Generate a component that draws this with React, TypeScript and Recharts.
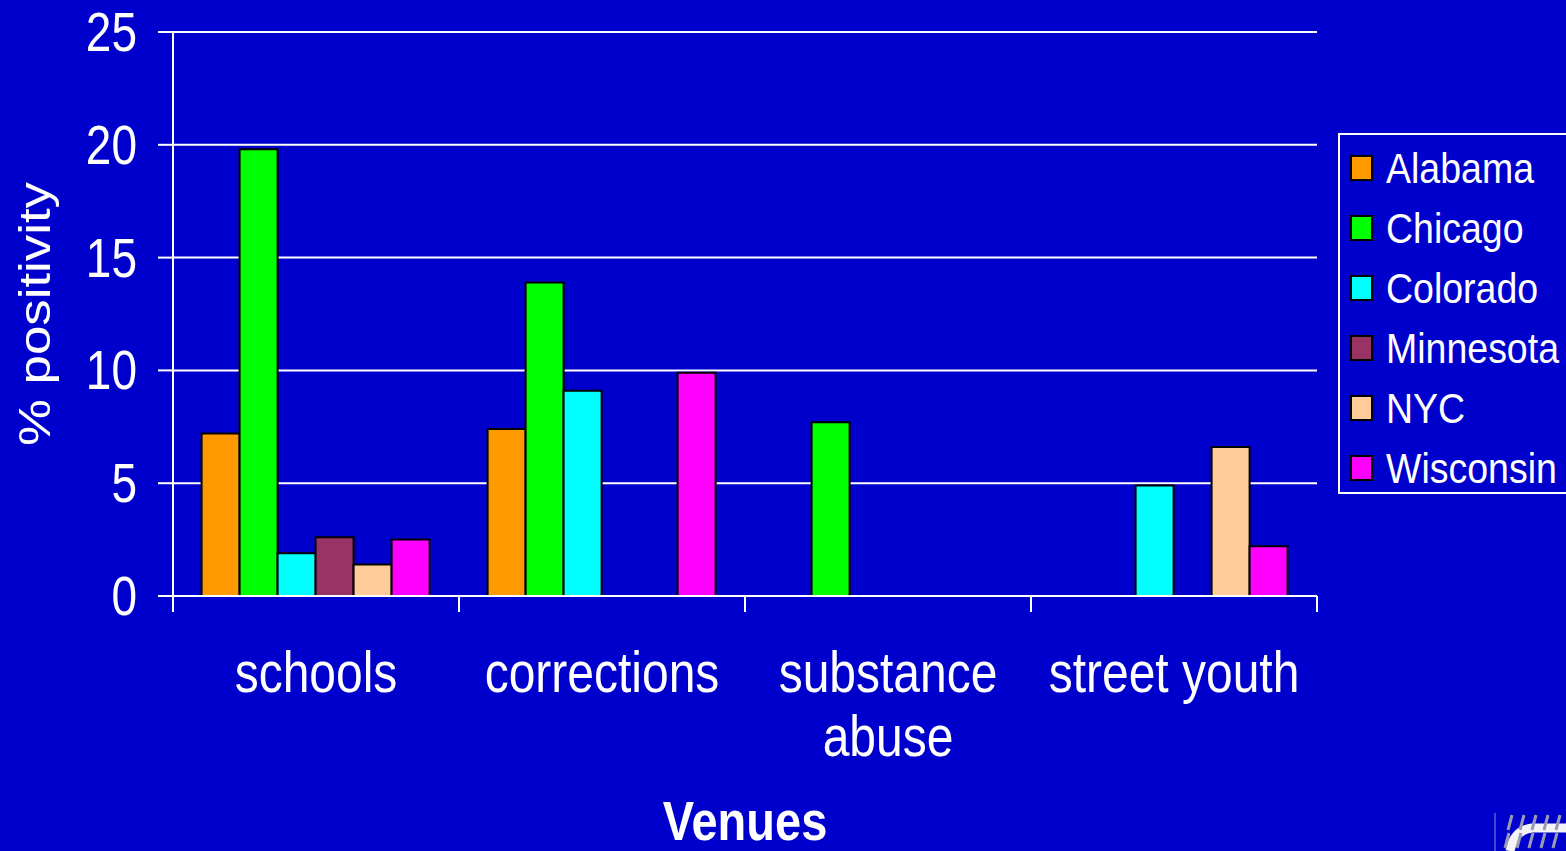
import { BarChart, Bar, XAxis, YAxis, CartesianGrid, Legend } from 'recharts';

// positivity by venue, one array per site (null = no data)
const venues = ['schools', 'corrections', 'substance\nabuse', 'street youth'];
const alabama = [7.2, 7.4, null, null];
const chicago = [19.8, 13.9, 7.7, null];
const colorado = [1.9, 9.1, null, 4.9];
const minnesota = [2.6, null, null, null];
const nyc = [1.4, null, null, 6.6];
const wisconsin = [2.5, 9.9, null, 2.2];
const yTicks = [0, 5, 10, 15, 20, 25];

const series = [
  { key: 'Alabama', values: alabama, color: '#FF9900' },
  { key: 'Chicago', values: chicago, color: '#00FF00' },
  { key: 'Colorado', values: colorado, color: '#00FFFF' },
  { key: 'Minnesota', values: minnesota, color: '#993366' },
  { key: 'NYC', values: nyc, color: '#FFCC99' },
  { key: 'Wisconsin', values: wisconsin, color: '#FF00FF' },
];

const data = venues.map((venue, i) => {
  const row: Record<string, string | number | null> = { venue };
  series.forEach((s) => {
    row[s.key] = s.values[i];
  });
  return row;
});

const FONT = '"Liberation Sans", Arial, sans-serif';

function VenueTick({ x, y, payload, index }: any) {
  const half = payload?.offset ?? 143;
  const lines = String(payload.value).split('\n');
  return (
    <g>
      <line x1={x - half} x2={x - half} y1={y} y2={y + 16} stroke="#fff" strokeWidth={2} />
      {index === venues.length - 1 && (
        <line x1={x + half} x2={x + half} y1={y} y2={y + 16} stroke="#fff" strokeWidth={2} />
      )}
      {lines.map((line, i) => (
        <text
          key={i}
          transform={`translate(${x},${y + 96 + i * 64}) scale(1,1.2)`}
          textAnchor="middle"
          fill="#fff"
          fontSize={48}
          fontFamily={FONT}
        >
          {line}
        </text>
      ))}
    </g>
  );
}

function ValueTick({ x, y, payload }: any) {
  return (
    <text
      transform={`translate(${x},${y + 19}) scale(1,1.2)`}
      textAnchor="end"
      fill="#fff"
      fontSize={46}
      fontFamily={FONT}
    >
      {payload.value}
    </text>
  );
}

function LegendBox({ payload }: any) {
  const items =
    payload && payload.length
      ? payload.map((p: any) => ({ key: p.value, color: p.color }))
      : series;
  return (
    <svg width={240} height={362} style={{ display: 'block' }}>
      <rect x={1} y={1} width={250} height={359} fill="none" stroke="#fff" strokeWidth={2} />
      {items.map((s: any, i: number) => {
        const cy = 35 + i * 60;
        return (
          <g key={s.key}>
            <rect x={13} y={cy - 12} width={21} height={24} fill={s.color} stroke="#000" strokeWidth={2} />
            <text
              transform={`translate(48,${cy + 15}) scale(1,1.15)`}
              fill="#fff"
              fontSize={37.5}
              fontFamily={FONT}
            >
              {s.key}
            </text>
          </g>
        );
      })}
    </svg>
  );
}

// the corner logo, only partly on the slide
function CornerLogo() {
  const hatches = [1508, 1520, 1532, 1544, 1556];
  return (
    <svg
      width={86}
      height={51}
      style={{ position: 'absolute', left: 1480, top: 800 }}
    >
      <line x1={15} x2={15} y1={13} y2={51} stroke="#8c8cd0" strokeWidth={1} />
      <path d="M 30 51 Q 34 30 52 28 L 86 28" fill="none" stroke="#f4f4f4" strokeWidth={9} />
      {hatches.map((hx) => (
        <g key={hx}>
          <line x1={hx - 1480} y1={30} x2={hx - 1480 + 4} y2={15} stroke="#9a9ab8" strokeWidth={3} />
          <line x1={hx - 1480 - 3} y1={48} x2={hx - 1480 + 1} y2={33} stroke="#9a9ab8" strokeWidth={3} />
        </g>
      ))}
    </svg>
  );
}

export default function App() {
  return (
    <div
      style={{
        position: 'absolute',
        left: 0,
        top: 0,
        width: 1566,
        height: 851,
        background: '#0000CC',
        overflow: 'hidden',
        fontFamily: FONT,
      }}
    >
      <BarChart
        width={1566}
        height={851}
        data={data}
        margin={{ top: 32, right: 249, bottom: 0, left: 0 }}
        barCategoryGap="10%"
        barGap={0}
      >
        <CartesianGrid vertical={false} stroke="#fff" strokeWidth={2} />
        <XAxis
          dataKey="venue"
          height={255}
          axisLine={{ stroke: '#fff', strokeWidth: 2 }}
          tickLine={false}
          tickSize={0}
          tickMargin={0}
          interval={0}
          tick={<VenueTick />}
          label={{
            content: ({ viewBox }: any) => (
              <text
                transform={`translate(${viewBox.x + viewBox.width / 2},840) scale(1,1.2)`}
                textAnchor="middle"
                fill="#fff"
                fontSize={47}
                fontWeight="bold"
                fontFamily={FONT}
              >
                Venues
              </text>
            ),
          }}
        />
        <YAxis
          width={173}
          domain={[0, 25]}
          ticks={yTicks}
          interval={0}
          axisLine={{ stroke: '#fff', strokeWidth: 2 }}
          tickLine={{ stroke: '#fff', strokeWidth: 2 }}
          tickSize={15}
          tickMargin={21}
          tick={<ValueTick />}
          label={{
            content: () => (
              <text
                transform="translate(50,314) rotate(-90) scale(1.2,1)"
                textAnchor="middle"
                fill="#fff"
                fontSize={44}
                fontFamily={FONT}
              >
                % positivity
              </text>
            ),
          }}
        />
        <Legend
          layout="horizontal"
          verticalAlign="middle"
          align="center"
          width={240}
          height={362}
          wrapperStyle={{ left: 1338, top: 133, width: 240, height: 362 }}
          content={<LegendBox />}
        />
        {series.map((s) => (
          <Bar
            key={s.key}
            dataKey={s.key}
            name={s.key}
            fill={s.color}
            stroke="#000"
            strokeWidth={2}
            isAnimationActive={false}
          />
        ))}
      </BarChart>
      <CornerLogo />
    </div>
  );
}
